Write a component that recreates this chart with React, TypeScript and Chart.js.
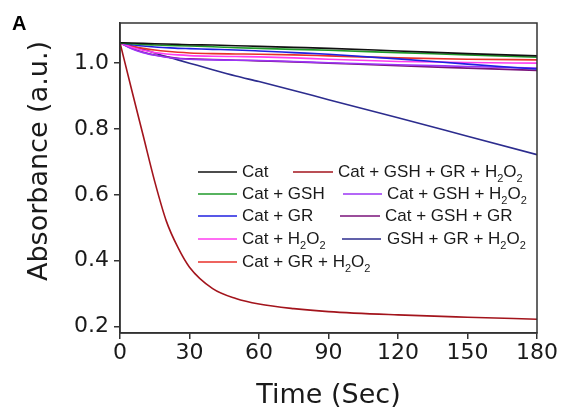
import React, { useEffect, useRef } from "react";
import { Chart, registerables } from "chart.js";

Chart.register(...registerables);

const times = [0, 5, 10, 15, 20, 25, 30, 40, 50, 60, 75, 90, 120, 150, 180];
const xTicks = [0, 30, 60, 90, 120, 150, 180];
const yTicks = [0.2, 0.4, 0.6, 0.8, 1.0];

const labels = [
  "Cat",
  "Cat + GSH",
  "Cat + GR",
  "Cat + H2O2",
  "Cat + GR + H2O2",
  "Cat + GSH + GR + H2O2",
  "Cat + GSH + H2O2",
  "Cat + GSH + GR",
  "GSH + GR + H2O2",
];

const colors = [
  "#111111",
  "#1f9a2a",
  "#2020e0",
  "#ff3cf0",
  "#e8302a",
  "#a3141c",
  "#9b34f5",
  "#7a127a",
  "#2c2c8e",
];

const cat = [1.062, 1.061, 1.06, 1.059, 1.058, 1.057, 1.056, 1.055, 1.053, 1.051, 1.048, 1.045, 1.037, 1.029, 1.022];
const catGsh = [1.062, 1.059, 1.057, 1.055, 1.054, 1.053, 1.052, 1.05, 1.047, 1.045, 1.042, 1.039, 1.032, 1.025, 1.018];
const catGr = [1.062, 1.056, 1.052, 1.049, 1.047, 1.045, 1.044, 1.042, 1.04, 1.037, 1.032, 1.027, 1.013, 0.997, 0.982];
const catH2o2 = [1.062, 1.048, 1.039, 1.032, 1.028, 1.025, 1.023, 1.021, 1.02, 1.019, 1.016, 1.012, 1.005, 1.002, 1.0];
const catGrH2o2 = [1.062, 1.052, 1.045, 1.04, 1.036, 1.033, 1.031, 1.029, 1.028, 1.027, 1.025, 1.022, 1.016, 1.012, 1.01];
const catGshGrH2o2 = [1.062, 0.92, 0.78, 0.64, 0.52, 0.44, 0.38, 0.315, 0.285, 0.268, 0.254, 0.245, 0.235, 0.228, 0.222];
const catGshH2o2 = [1.062, 1.044, 1.032, 1.024, 1.018, 1.014, 1.012, 1.01, 1.009, 1.008, 1.005, 1.001, 0.995, 0.99, 0.985];
const catGshGr = [1.062, 1.045, 1.033, 1.025, 1.019, 1.015, 1.013, 1.011, 1.009, 1.007, 1.004, 1.0, 0.992, 0.985, 0.978];
const gshGrH2o2 = [1.062, 1.052, 1.042, 1.031, 1.02, 1.01, 1.0, 0.98, 0.961, 0.944, 0.917, 0.889, 0.834, 0.778, 0.722];

const series = [cat, catGsh, catGr, catH2o2, catGrH2o2, catGshGrH2o2, catGshH2o2, catGshGr, gshGrH2o2];

const FONT = "'Liberation Sans', Arial, sans-serif";
const AXIS_FONT = "'DejaVu Sans', sans-serif";
const AXIS_COLOR = "#333333";
const TEXT_COLOR = "#1a1a1a";
const Y_TITLE = "Absorbance (a.u.)";
const X_TITLE = "Time (Sec)";

// legend layout: [lineStartX, lineEndX, textX, centerY]
const legendLayout = [
  [198, 237, 242, 172],
  [198, 237, 242, 194],
  [198, 237, 242, 216],
  [198, 237, 242, 239],
  [198, 237, 242, 262],
  [293, 333, 338, 172],
  [343, 382, 387, 194],
  [340, 380, 385, 216],
  [342, 381, 387, 239],
];

function splitSegments(text: string) {
  const segs: { t: string; sub: boolean }[] = [];
  for (let i = 0; i < text.length; i++) {
    const ch = text[i];
    const isSub = /[0-9]/.test(ch) && i > 0 && /[A-Za-z]/.test(text[i - 1]);
    const last = segs[segs.length - 1];
    if (last && last.sub === isSub) last.t += ch;
    else segs.push({ t: ch, sub: isSub });
  }
  return segs;
}

const legendPlugin = {
  id: "customLegend",
  afterDraw(chart: any) {
    const ctx = chart.ctx as CanvasRenderingContext2D;
    ctx.save();
    labels.forEach((lab, i) => {
      const [x0, x1, tx, cy] = legendLayout[i];
      ctx.strokeStyle = colors[i];
      ctx.lineWidth = 1.5;
      ctx.beginPath();
      ctx.moveTo(x0, cy);
      ctx.lineTo(x1, cy);
      ctx.stroke();
      let x = tx;
      ctx.fillStyle = TEXT_COLOR;
      ctx.textBaseline = "middle";
      ctx.textAlign = "left";
      for (const seg of splitSegments(lab)) {
        if (seg.sub) {
          ctx.font = `11px ${FONT}`;
          ctx.fillText(seg.t, x, cy + 7);
        } else {
          ctx.font = `17px ${FONT}`;
          ctx.fillText(seg.t, x, cy);
        }
        x += ctx.measureText(seg.t).width;
      }
    });
    // panel letter
    ctx.font = `bold 20px ${FONT}`;
    ctx.fillStyle = "#000";
    ctx.textBaseline = "alphabetic";
    ctx.textAlign = "left";
    ctx.fillText("A", 12, 30);
    // y axis title
    ctx.save();
    ctx.translate(40, 161);
    ctx.rotate(-Math.PI / 2);
    ctx.font = `27px ${AXIS_FONT}`;
    ctx.fillStyle = TEXT_COLOR;
    ctx.textAlign = "center";
    ctx.textBaseline = "middle";
    ctx.fillText(Y_TITLE, 0, 0);
    ctx.restore();
    // frame
    const a = chart.chartArea;
    ctx.strokeStyle = AXIS_COLOR;
    ctx.lineWidth = 1.5;
    ctx.strokeRect(a.left, a.top, a.right - a.left, a.bottom - a.top);
    ctx.restore();
  },
};

export default function App() {
  const ref = useRef<HTMLCanvasElement | null>(null);
  useEffect(() => {
    if (!ref.current) return;
    const chart = new Chart(ref.current, {
      type: "line",
      data: {
        datasets: series.map((vals, i) => ({
          label: labels[i],
          data: vals.map((v, j) => ({ x: times[j], y: v })),
          borderColor: colors[i],
          borderWidth: 1.6,
          pointRadius: 0,
          fill: false,
          cubicInterpolationMode: "monotone" as const,
        })),
      },
      plugins: [legendPlugin],
      options: {
        responsive: false,
        animation: false,
        layout: { padding: { top: 23, right: 25, left: 0, bottom: 0 } },
        plugins: { legend: { display: false }, tooltip: { enabled: false } },
        scales: {
          x: {
            type: "linear",
            min: 0,
            max: 180,
            afterFit: (s: any) => {
              s.height = 79;
            },
            afterBuildTicks: (s: any) => {
              s.ticks = xTicks.map((v) => ({ value: v }));
            },
            grid: { display: true, drawOnChartArea: false, drawTicks: true, tickLength: 6, color: AXIS_COLOR, lineWidth: 1.5 },
            border: { display: true, color: AXIS_COLOR, width: 1.5 },
            ticks: { color: TEXT_COLOR, font: { family: AXIS_FONT, size: 22 }, padding: 1, maxRotation: 0 },
            title: { display: true, text: X_TITLE, color: TEXT_COLOR, font: { family: AXIS_FONT, size: 27 }, padding: { top: 0, bottom: 0 } },
          },
          y: {
            type: "linear",
            min: 0.18,
            max: 1.122,
            afterFit: (s: any) => {
              s.width = 120;
            },
            afterBuildTicks: (s: any) => {
              s.ticks = yTicks.map((v) => ({ value: v }));
            },
            grid: { display: true, drawOnChartArea: false, drawTicks: true, tickLength: 6, color: AXIS_COLOR, lineWidth: 1.5 },
            border: { display: true, color: AXIS_COLOR, width: 1.5 },
            ticks: {
              color: TEXT_COLOR,
              font: { family: AXIS_FONT, size: 22 },
              padding: 5,
              callback: (v: any) => Number(v).toFixed(1),
            },
            title: { display: false },
          },
        },
      },
    });
    return () => chart.destroy();
  }, []);
  return (
    <div style={{ position: "fixed", left: 0, top: 0, width: 562, height: 412, background: "#fff" }}>
      <canvas ref={ref} width={562} height={412} style={{ width: 562, height: 412 }} />
    </div>
  );
}
